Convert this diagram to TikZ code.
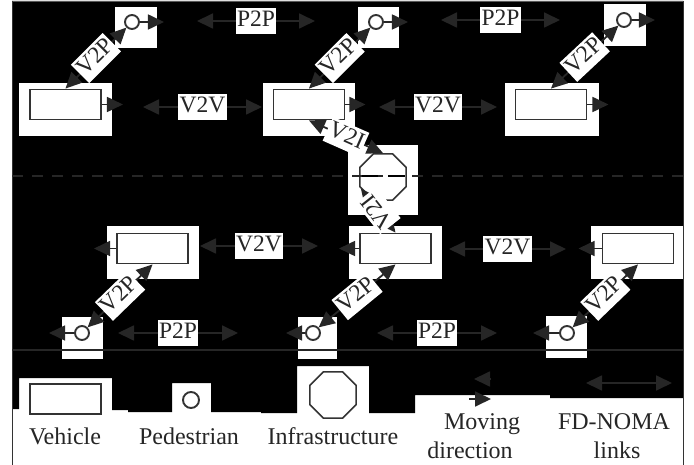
\documentclass[tikz,border=0pt]{standalone}
\usepackage{fontspec}
\setmainfont{Liberation Serif}
\usetikzlibrary{arrows.meta,shapes.geometric}
\definecolor{lnk}{HTML}{262626}
\definecolor{edgec}{HTML}{333333}
\begin{document}
\begin{tikzpicture}[x=1pt,y=-1pt,
  patch/.style={fill=white},
  veh/.style={draw=edgec, line width=1.9pt, fill=white, rectangle, minimum width=71pt, minimum height=30pt, inner sep=0pt},
  ped/.style={draw=edgec, line width=1.9pt, fill=white, circle, minimum size=14pt, inner sep=0pt},
  infra/.style={draw=edgec, line width=1.6pt, regular polygon, regular polygon sides=8, minimum size=50pt, inner sep=0pt},
  lab/.style={fill=white, font=\fontsize{23.5}{26}\selectfont, text=black!85, inner xsep=1.5pt, inner ysep=2pt, text height=16.5pt, text depth=5.5pt},
  legtext/.style={font=\fontsize{24}{28}\selectfont, text=black!85, inner sep=0pt, anchor=base},
  link/.style={draw=lnk, line width=1.8pt, {Triangle[length=16pt,width=15pt]}-{Triangle[length=16pt,width=15pt]}},
  movearr/.style={draw=lnk, line width=1.8pt, -{Triangle[length=16pt,width=15pt]}},
  road/.style={draw=lnk, line width=2pt},
]
\useasboundingbox (0,0) rectangle (694,465);
\fill[white] (0,0) rectangle (694,465);
% black background with stepped bottom edge
\fill[black] (12,1) -- (683,1) -- (683,398) -- (550,398) -- (550,395) -- (415,395) -- (415,413)
  -- (369,413) -- (369,366) -- (297,366) -- (297,413) -- (261,413) -- (261,412) -- (211,412)
  -- (211,383) -- (172,383) -- (172,412) -- (128,412) -- (128,410) -- (112,410) -- (112,378)
  -- (19,378) -- (19,409) -- (12,409) -- cycle;
\draw[gray!70!black, line width=0.8pt] (12,1) -- (683,1);
\draw[black!80, line width=1pt] (12,1) -- (12,465) (683,1) -- (683,465);
% white patches
\fill[patch] (115,7) rectangle (157,48);
\fill[patch] (358,7) rectangle (399,48);
\fill[patch] (604,4) rectangle (646,46);
\fill[patch] (19,83) rectangle (112,136);
\fill[patch] (263,83) rectangle (355,136);
\fill[patch] (505,83) rectangle (599,136);
\fill[patch] (348,145) rectangle (418,215);
\fill[patch] (107,226) rectangle (199,279);
\fill[patch] (349,226) rectangle (442,279);
\fill[patch] (591,226) rectangle (683,279);
\fill[patch] (62,317) rectangle (103,359);
\fill[patch] (298,317) rectangle (337,359);
\fill[patch] (546,316) rectangle (587,358);
% road line
\draw[road] (12,350) -- (683,350);
% vehicles
\node[veh] (v1) at (65.5,104.5) {};
\node[veh] (v2) at (309,104.5) {};
\node[veh] (v3) at (551,104.5) {};
\node[veh] (v4) at (152.5,248.5) {};
\node[veh] (v5) at (395.5,248.5) {};
\node[veh] (v6) at (638,248.5) {};
% pedestrians
\node[ped] (p1) at (132,22) {};
\node[ped] (p2) at (376,22) {};
\node[ped] (p3) at (624,20) {};
\node[ped] (p4) at (82,333) {};
\node[ped] (p5) at (313,333) {};
\node[ped] (p6) at (567,333) {};
% infrastructure
\node[infra] (i1) at (383,177) {};
% dashed lane line
\draw[lnk, line width=2pt, dash pattern=on 11pt off 9pt] (12,176) -- (683,176);
\draw[black, line width=2.5pt] (362,176) -- (378,176) (388,176) -- (405,176);
% moving directions
\draw[movearr] (v1.east) -- ++(21,0);
\draw[movearr] (v2.east) -- ++(20,0);
\draw[movearr] (v3.east) -- ++(21,0);
\draw[movearr] (p1.east) -- ++(24,0);
\draw[movearr] (p2.east) -- ++(24,0);
\draw[movearr] (p3.east) -- ++(23,0);
\draw[movearr] (v4.west) -- ++(-22,0);
\draw[movearr] (v5.west) -- ++(-20,0);
\draw[movearr] (v6.west) -- ++(-23,0);
\draw[movearr] (p4.west) -- ++(-25,0);
\draw[movearr] (p5.west) -- ++(-19,0);
\draw[movearr] (p6.west) -- ++(-26,0);
% horizontal links
\coordinate (a1) at (197,21); \coordinate (a2) at (315,21);
\coordinate (b1) at (441,20); \coordinate (b2) at (560,20);
\coordinate (c1) at (143,107); \coordinate (c2) at (262,107);
\coordinate (d1) at (379,107); \coordinate (d2) at (497,107);
\coordinate (e1) at (200,246); \coordinate (e2) at (318,246);
\coordinate (f1) at (449,249); \coordinate (f2) at (566,249);
\coordinate (g1) at (118,333); \coordinate (g2) at (238,333);
\coordinate (h1) at (377,333); \coordinate (h2) at (497,333);
\draw[link] (a1) -- (a2) node[lab, midway] (la) {P2P};
\draw[link] (b1) -- (b2) node[lab, midway] (lb) {P2P};
\draw[link] (c1) -- (c2) node[lab, midway] (lc) {V2V};
\draw[link] (d1) -- (d2) node[lab, midway] (ld) {V2V};
\draw[link] (e1) -- (e2) node[lab, midway] (le) {V2V};
\draw[link] (f1) -- (f2) node[lab, midway] (lf) {V2V};
\draw[link] (g1) -- (g2) node[lab, midway] (lg) {P2P};
\draw[link] (h1) -- (h2) node[lab, midway] (lh) {P2P};
% V2P links
\draw[link] (v1.north) -- (p1.south west) node[lab, midway, sloped] (lv1) {V2P};
\draw[link] (v2.north) -- (p2.south west) node[lab, midway, sloped] (lv2) {V2P};
\draw[link] (v3.north) -- (p3.south west) node[lab, midway, sloped] (lv3) {V2P};
\draw[link] (v4.south) -- (p4.north east) node[lab, midway, sloped] (lv4) {V2P};
\draw[link] (v5.south) -- (p5.north east) node[lab, midway, sloped] (lv5) {V2P};
\draw[link] (v6.south) -- (p6.north east) node[lab, midway, sloped] (lv6) {V2P};
% V2I links
\draw[link] (i1.north) -- (v2.south) node[lab, midway, sloped] (li1) {V2I};
\draw[link] (v5.north) -- (i1.208) node[lab, midway, sloped, allow upside down] (li2) {V2I};
% legend
\node[veh] (lv) at (65.5,399) {};
\node[ped, minimum size=16pt] (lp) at (191,400) {};
\node[infra, fill=white] (li) at (333,395) {};
\coordinate (m1) at (491,379); \coordinate (m2) at (474,379);
\coordinate (m3) at (469,399); \coordinate (m4) at (491,399);
\draw[movearr] (m1) -- (m2);
\draw[movearr] (m3) -- (m4);
\coordinate (n1) at (586,383); \coordinate (n2) at (672,383);
\draw[link] (n1) -- (n2);
\node[legtext] (t1) at (65,444) {Vehicle};
\node[legtext] (t2) at (189,444) {Pedestrian};
\node[legtext] (t3) at (333,444) {Infrastructure};
\node[legtext] (t4) at (482,429) {Moving};
\node[legtext] (t5) at (470,458) {direction};
\node[legtext] (t6) at (614,429) {FD-NOMA};
\node[legtext] (t7) at (617,458) {links};
\end{tikzpicture}
\end{document}
